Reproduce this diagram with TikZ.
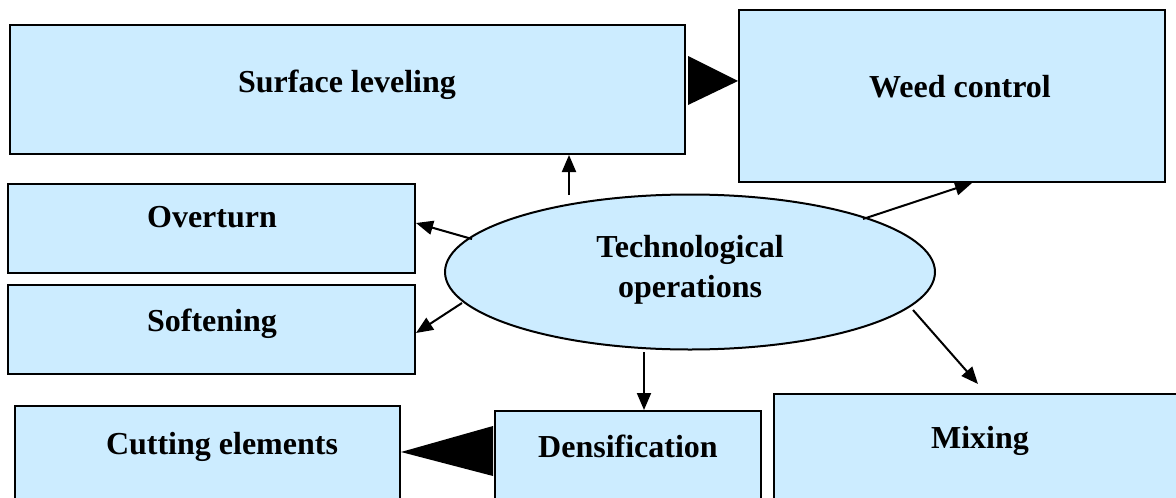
\documentclass[tikz,border=0pt]{standalone}
\usepackage{fontspec}
\setmainfont{Liberation Serif}
\usetikzlibrary{shapes.geometric,arrows.meta}
\definecolor{boxblue}{HTML}{CCECFF}
\tikzset{
  box/.style={draw=black, line width=2pt, fill=boxblue, inner sep=0pt, rectangle},
  ell/.style={draw=black, line width=2pt, fill=boxblue, inner sep=0pt, ellipse},
  lbl/.style={anchor=base, inner sep=0pt, font=\fontsize{32}{40}\selectfont\bfseries},
  arr/.style={line width=2pt, -{Triangle[length=17pt,width=14pt]}},
  bigtri/.style={fill=black}
}
\begin{document}
\begin{tikzpicture}[x=1pt,y=-1pt]
\clip (0,0) rectangle (1176,498);
% boxes
\node[box, minimum width=675pt, minimum height=129pt] (sl) at (347.5,89.5) {};
\node[box, minimum width=426pt, minimum height=172pt] (wc) at (952,96) {};
\node[box, minimum width=407pt, minimum height=89pt] (ov) at (211.5,228.5) {};
\node[box, minimum width=407pt, minimum height=89pt] (so) at (211.5,329.5) {};
\node[box, minimum width=385pt, minimum height=104pt] (ce) at (207.5,458) {};
\node[box, minimum width=266pt, minimum height=99pt] (de) at (628,460.5) {};
\node[box, minimum width=416pt, minimum height=116pt] (mx) at (982,452) {};
\node[ell, minimum width=490pt, minimum height=155pt] (op) at (690,272) {};
% labels
\node[lbl] (tsl) at (347,92) {Surface leveling};
\node[lbl] (twc) at (960,97) {Weed control};
\node[lbl] (tov) at (212,227) {Overturn};
\node[lbl] (tso) at (212,331) {Softening};
\node[lbl] (tce) at (222,454) {Cutting elements};
\node[lbl] (tde) at (628,457) {Densification};
\node[lbl] (tmx) at (980,448) {Mixing};
\node[lbl] (top1) at (690,257) {Technological};
\node[lbl] (top2) at (690,297) {operations};
% big triangles
\fill[bigtri] (wc.west |- 0,81) -- (688,56) -- (688,105) -- cycle;
\fill[bigtri] (ce.east |- 0,452) -- (493,426) -- (493,476) -- cycle;
% arrow tails
\coordinate (aup) at (569,195);
\coordinate (aov) at (472,239);
\coordinate (aso) at (462,303);
\coordinate (awc) at (863,219);
\coordinate (amx) at (913,310);
\coordinate (ade) at (644,352);
\coordinate (hmx) at (978,384);
% arrows
\draw[arr] (aup) -- (aup |- sl.south);
\draw[arr] (aov) -- (ov.east |- 0,223);
\draw[arr] (aso) -- (so.east |- 0,333);
\draw[arr] (awc) -- (972,183);
\draw[arr] (amx) -- (hmx);
\draw[arr] (ade) -- (ade |- de.north);
\end{tikzpicture}
\end{document}
